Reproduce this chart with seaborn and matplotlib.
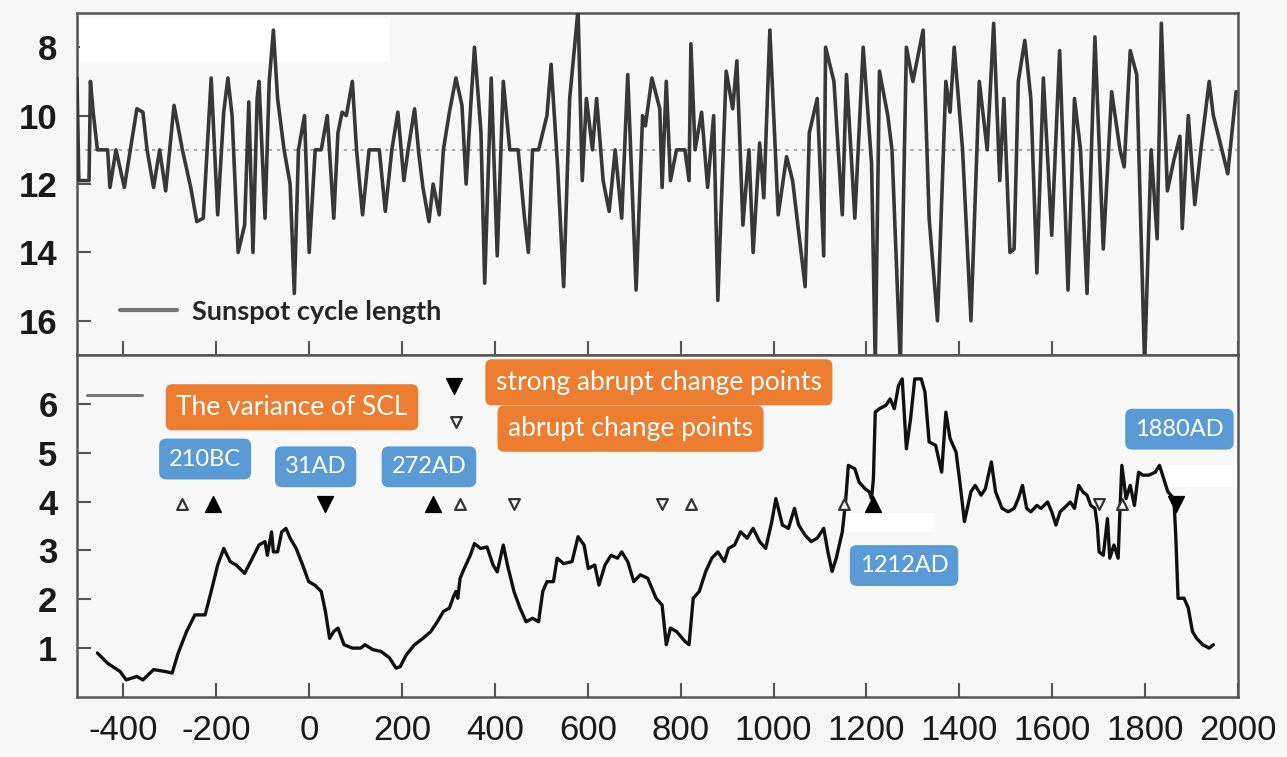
import matplotlib
matplotlib.use("Agg")
import matplotlib.pyplot as plt
import seaborn as sns
import pandas as pd
from matplotlib.lines import Line2D
from matplotlib.patches import Rectangle

# ---------------- data ----------------
scl_years = [-500, -496, -474, -471, -465, -456, -434, -429, -416, -398, -385, -371, -358, -349,
             -335, -322, -309, -291, -273, -255, -242, -228, -211, -197, -184, -175, -166, -153,
             -139, -130, -121, -112, -108, -95, -86, -77, -68, -54, -41, -32, -23, -10, 0, 13,
             26, 39, 53, 62, 71, 80, 93, 102, 115, 129, 138, 151, 164, 178, 191, 204, 213, 227,
             236, 245, 258, 267, 280, 289, 302, 316, 329, 338, 347, 356, 370, 378, 392, 405,
             418, 432, 450, 463, 472, 481, 494, 512, 521, 535, 548, 561, 579, 588, 597, 610,
             619, 633, 646, 659, 673, 686, 704, 718, 724, 738, 755, 760, 769, 778, 791, 809,
             818, 822, 831, 845, 858, 871, 880, 898, 912, 921, 934, 947, 956, 970, 979, 992,
             1010, 1028, 1041, 1054, 1068, 1077, 1094, 1108, 1112, 1130, 1148, 1157, 1175, 1193,
             1211, 1219, 1228, 1246, 1255, 1273, 1286, 1300, 1322, 1335, 1353, 1371, 1380, 1389,
             1407, 1425, 1443, 1460, 1474, 1487, 1496, 1509, 1518, 1527, 1541, 1554, 1567, 1581,
             1599, 1616, 1634, 1648, 1661, 1675, 1692, 1710, 1728, 1746, 1755, 1768, 1782, 1799,
             1813, 1826, 1835, 1848, 1862, 1875, 1880, 1893, 1907, 1920, 1938, 1947, 1960, 1978,
             1996]
scl_values = [8.9, 11.9, 11.9, 9.0, 9.9, 11.0, 11.0, 12.1, 11.0, 12.1, 11.0, 9.8, 9.9, 11.0,
              12.1, 11.0, 12.2, 9.7, 11.0, 12.1, 13.1, 13.0, 8.9, 12.9, 9.9, 8.9, 10.0, 14.0,
              13.2, 9.6, 14.0, 9.5, 9.0, 13.0, 9.0, 7.5, 9.5, 11.0, 12.0, 15.2, 11.0, 10.0, 14.0, 11.0,
              11.0, 10.0, 13.0, 10.5, 9.9, 10.0, 9.0, 11.0, 12.9, 11.0, 11.0, 11.0, 12.8, 11.0, 9.9, 11.9, 11.0, 9.8,
              11.1, 12.1, 13.1, 12.0, 12.9, 11.0, 9.9, 8.9, 9.7, 12.0, 9.9, 8.0, 10.5, 14.9, 8.9, 14.1,
              9.0, 11.0, 11.0, 12.9, 14.0, 11.0, 11.0, 10.0, 8.5, 11.5, 15.0, 9.5, 6.9, 11.9, 9.5, 11.0,
              9.5, 11.9, 12.8, 11.0, 13.0, 8.8, 15.1, 10.0, 10.3, 8.9, 9.8, 12.1, 9.0, 11.9, 11.0, 11.0,
              11.9, 7.9, 11.0, 9.9, 12.1, 10.0, 15.4, 8.7, 9.8, 8.4, 13.2, 11.0, 14.0, 10.8, 12.4, 7.5,
              12.9, 11.2, 11.9, 13.4, 15.0, 10.5, 9.5, 14.1, 8.0, 9.0, 12.9, 8.8, 13.0, 8.0,
              11.4, 17.3, 8.7, 10.0, 11.0, 17.3, 8.0, 9.0, 7.5, 13.0, 16.0, 9.0, 9.9, 8.0,
              11.0, 16.0, 9.0, 11.0, 7.3, 11.9, 9.5, 14.0, 13.9, 9.0, 7.8, 9.5, 14.6, 8.9,
              13.5, 8.1, 15.1, 9.5, 11.0, 15.2, 7.7, 13.9, 9.3, 11.0, 11.5, 8.1, 8.8, 17.3,
              11.0, 13.6, 7.3, 12.2, 11.3, 10.6, 13.3, 10.0, 12.6, 11.0, 9.0, 10.0, 10.7, 11.7,
              9.3]
scl_mean = 11.0

var_years = [-456, -434, -407, -394, -371, -358, -335, -309, -295, -282, -264, -246, -224, -211,
             -197, -184, -170, -157, -139, -126, -108, -95, -90, -81, -77, -68, -59, -50, -41, -28,
             -14, -1, 12, 26, 35, 44, 53, 62, 75, 93, 111, 120, 137, 155, 173, 187, 196, 209, 227,
             245, 262, 276, 289, 302, 311, 316, 320, 325, 334, 347, 356, 369, 383, 396, 405, 418,
             427, 441, 454, 467, 481, 494, 503, 512, 526, 534, 548, 566, 579, 592, 601, 615, 624,
             637, 650, 664, 673, 686, 699, 713, 729, 747, 760, 769, 778, 791, 809, 818, 827,
             840, 854, 867, 880, 894, 903, 916, 929, 943, 956, 970, 983, 996, 1005, 1019, 1032,
             1045, 1054, 1068, 1081, 1094, 1108, 1117, 1126, 1135, 1148, 1155, 1161, 1175, 1184,
             1197, 1206, 1211, 1215, 1219, 1228, 1242, 1251, 1260, 1269, 1277, 1286, 1295, 1304,
             1318, 1326, 1335, 1349, 1362, 1371, 1380, 1393, 1402, 1411, 1425, 1434, 1447, 1456,
             1469, 1478, 1492, 1505, 1518, 1527, 1536, 1545, 1554, 1567, 1576, 1590, 1599, 1608,
             1617, 1625, 1639, 1648, 1657, 1666, 1675, 1683, 1692, 1697, 1701, 1710, 1719, 1724,
             1733, 1742, 1746, 1750, 1759, 1768, 1777, 1786, 1795, 1808, 1822, 1831, 1840, 1849,
             1862, 1866, 1871, 1884, 1893, 1902, 1911, 1924, 1938, 1947]
var_values = [0.90, 0.69, 0.52, 0.35, 0.42, 0.35, 0.56, 0.52, 0.49, 0.90, 1.34, 1.68, 1.68, 2.16,
              2.70, 3.04, 2.77, 2.70, 2.53, 2.77, 3.11, 3.18, 2.90, 3.38, 2.97, 2.97, 3.38, 3.45, 3.25, 3.04,
              2.70, 2.36, 2.29, 2.16, 1.75, 1.20, 1.34, 1.41, 1.07, 1.00, 1.00, 1.07, 0.97, 0.93, 0.80, 0.59, 0.62, 0.86, 1.07,
              1.20, 1.34, 1.54, 1.75, 1.82, 2.06, 2.16, 2.02, 2.43, 2.63, 2.90, 3.14, 3.04, 3.07, 2.70, 2.56, 3.11,
              2.70, 2.16, 1.82, 1.54, 1.61, 1.54, 2.16, 2.36, 2.36, 2.84, 2.73, 2.77, 3.28, 3.11, 2.63, 2.70, 2.29,
              2.70, 2.90, 2.84, 2.97, 2.77, 2.36, 2.50, 2.43, 2.02, 1.88, 1.07, 1.41, 1.34, 1.14, 1.07, 2.02,
              2.16, 2.57, 2.84, 2.97, 2.77, 3.04, 3.11, 3.38, 3.25, 3.45, 3.18, 3.04, 3.58, 4.06, 3.52, 3.45,
              3.86, 3.52, 3.31, 3.18, 3.25, 3.45, 2.97, 2.57, 2.84, 3.38, 3.99, 4.74, 4.67, 4.40,
              4.26, 4.20, 4.06, 4.47, 5.83, 5.90, 5.97, 6.10, 5.90, 6.37, 6.51, 5.08, 5.69, 6.51,
              6.51, 6.24, 5.22, 5.15, 4.60, 5.83, 5.29, 5.01, 4.33, 3.59, 4.20, 4.33, 4.13, 4.26,
              4.81, 4.20, 3.86, 3.79, 3.86, 4.06, 4.33, 3.86, 3.79, 3.92, 3.86, 3.99, 3.79, 3.52,
              3.79, 3.86, 3.99, 3.86, 4.33, 4.20, 4.13, 3.92, 3.86, 3.52, 2.97, 2.90, 3.65, 2.84,
              3.11, 2.84, 3.86, 4.74, 4.06, 4.33, 3.92, 4.60, 4.54, 4.54, 4.60, 4.74, 4.47, 4.20,
              4.06, 3.31, 2.02, 2.02, 1.82, 1.34, 1.20, 1.07, 1.00, 1.07]

strong_up_years = [-206, 267, 1215]
strong_down_years = [35, 1866]
weak_up_years = [-273, 325, 822, 1152, 1750]
weak_down_years = [441, 760, 1700]
marker_level = 3.95

x_ticks = [-400, -200, 0, 200, 400, 600, 800, 1000, 1200, 1400, 1600, 1800, 2000]
top_ticks = [8, 10, 12, 14, 16]
bottom_ticks = [1, 2, 3, 4, 5, 6]

legend_top = "Sunspot cycle length"
orange_labels = ["The variance of SCL", "strong abrupt change points", "abrupt change points"]
blue_labels = ["210BC", "31AD", "272AD", "1212AD", "1880AD"]

# ---------------- style ----------------
sns.set_theme(style="ticks")
plt.rcParams["font.family"] = ["Liberation Sans", "DejaVu Sans"]

ORANGE = "#ED7D31"
BLUE = "#5B9BD5"
SPINE = "#555555"
BG = "#f6f6f6"

fig = plt.figure(figsize=(12.87, 7.57), dpi=100, facecolor=BG)
ax1 = fig.add_axes([0.0598, 0.5310, 0.9021, 0.4518])
ax2 = fig.add_axes([0.0598, 0.0793, 0.9021, 0.4518])

df_scl = pd.DataFrame({"year": scl_years, "scl": scl_values})
df_var = pd.DataFrame({"year": var_years, "var": var_values})

for ax in (ax1, ax2):
    ax.set_facecolor("#f8f8f8")
    for s in ax.spines.values():
        s.set_color(SPINE)
        s.set_linewidth(1.8)
    ax.set_xlim(-500, 2000)
    ax.set_xticks(x_ticks)
    ax.tick_params(direction="in", length=10, width=1.5, color=SPINE,
                   labelsize=25, labelcolor="#1a1a1a", top=False, right=False)

# white editing patches
ax1.add_patch(Rectangle((0.003, 0.857), 0.267, 0.128, transform=ax1.transAxes,
                        color="white", zorder=1, lw=0))
ax2.add_patch(Rectangle((0.663, 0.482), 0.076, 0.056, transform=ax2.transAxes,
                        color="white", zorder=1, lw=0))
ax2.add_patch(Rectangle((0.937, 0.614), 0.062, 0.064, transform=ax2.transAxes,
                        color="white", zorder=1, lw=0))

# ---- top panel ----
ax1.axhline(scl_mean, color="#9a9a9a", lw=1.2, ls=(0, (2, 3)), zorder=2)
sns.lineplot(data=df_scl, x="year", y="scl", ax=ax1, color="#383838", lw=2.6,
             estimator=None, zorder=3)
ax1.lines[-1].set_solid_joinstyle("round")
ax1.set_ylim(17, 7)
ax1.set_yticks(top_ticks)
ax1.tick_params(axis="x", labelbottom=False)
ax1.tick_params(axis="y", pad=14)
for t in ax1.get_yticklabels():
    t.set_fontweight("bold")
ax1.set_xlabel("")
ax1.set_ylabel("")
ax1.legend(handles=[Line2D([], [], color="#777777", lw=3)], labels=[legend_top],
           loc="center left", bbox_to_anchor=(0.037, 0.126), frameon=False,
           borderpad=0, borderaxespad=0, handlelength=2.1, handletextpad=0.55,
           prop=dict(family="Lato", weight="bold", size=19.5))

# ---- bottom panel ----
sns.lineplot(data=df_var, x="year", y="var", ax=ax2, color="#111111", lw=2.4,
             estimator=None, zorder=3)
ax2.set_ylim(0, 7)
ax2.set_yticks(bottom_ticks)
ax2.set_xticklabels([str(v) for v in x_ticks])
ax2.tick_params(axis="x", pad=12)
ax2.tick_params(axis="y", pad=14)
for t in ax2.get_yticklabels():
    t.set_fontweight("bold")
ax2.set_xlabel("")
ax2.set_ylabel("")

ax2.scatter(strong_up_years, [marker_level] * len(strong_up_years), marker="^", s=130,
            color="black", zorder=5)
ax2.scatter(strong_down_years, [marker_level] * len(strong_down_years), marker="v", s=130,
            color="black", zorder=5)
ax2.scatter(weak_up_years, [marker_level] * len(weak_up_years), marker="^", s=60,
            facecolor="white", edgecolor="#333333", linewidth=1.6, zorder=5)
ax2.scatter(weak_down_years, [marker_level] * len(weak_down_years), marker="v", s=60,
            facecolor="white", edgecolor="#333333", linewidth=1.6, zorder=5)

# legend handle for variance line (label covered by orange box)
ax2.add_artist(ax2.legend(handles=[Line2D([], [], color="#777777", lw=2)], labels=[" "],
                          loc="center left", bbox_to_anchor=(0.0086, 0.877), frameon=False,
                          borderpad=0, borderaxespad=0, handlelength=2.1, handletextpad=0.2,
                          prop=dict(size=19)))
# legend markers for change points
ax2.scatter([311], [6.37], marker="v", s=130, color="black", zorder=6, clip_on=False)
ax2.scatter([316], [5.63], marker="v", s=60, facecolor="white", edgecolor="#333333",
            linewidth=1.6, zorder=6)

orange_pos = [(-37, 5.93), (753, 6.44), (692, 5.49)]
orange_z = [7, 8, 7]
for lab, (x, y), z in zip(orange_labels, orange_pos, orange_z):
    ax2.text(x, y, lab, ha="center", va="center", color="white", fontsize=19,
             family=["Lato", "DejaVu Sans"], zorder=z,
             bbox=dict(boxstyle="round,pad=0.4,rounding_size=0.25", fc=ORANGE, ec="none"))

blue_pos = [(-224, 4.87), (14, 4.71), (258, 4.71), (1281, 2.69), (1874, 5.48)]
for lab, (x, y) in zip(blue_labels, blue_pos):
    ax2.text(x, y, lab, ha="center", va="center", color="white", fontsize=17,
             family=["Lato", "DejaVu Sans"], zorder=7,
             bbox=dict(boxstyle="round,pad=0.42,rounding_size=0.3", fc=BLUE, ec="none"))

fig.savefig("out.png", dpi=100, facecolor=BG)
